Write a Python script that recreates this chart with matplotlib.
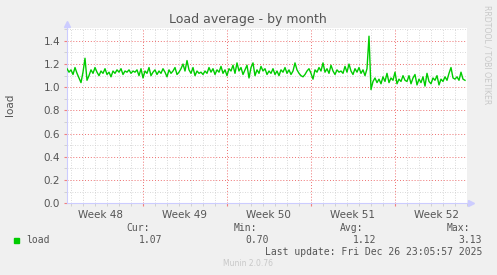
import numpy as np
import matplotlib
matplotlib.use('Agg')
import matplotlib.pyplot as plt
from matplotlib.ticker import MultipleLocator, FixedLocator, NullFormatter

# Carga media (muestras cada ~4 horas, 33.3 dias visibles)
carga = [
    1.16, 1.13, 1.15, 1.11, 1.17, 1.12, 1.08, 1.04, 1.13, 1.25, 1.06, 1.10, 1.15, 1.12, 1.17, 1.13, 1.10,
    1.14, 1.12, 1.16, 1.11, 1.13, 1.09, 1.14, 1.12, 1.15, 1.13, 1.16, 1.11, 1.14, 1.13, 1.15, 1.12, 1.14,
    1.13, 1.15, 1.10, 1.16, 1.08, 1.14, 1.12, 1.17, 1.10, 1.13, 1.15, 1.11, 1.14, 1.12, 1.16, 1.13, 1.09,
    1.15, 1.12, 1.14, 1.17, 1.11, 1.13, 1.16, 1.20, 1.14, 1.23, 1.15, 1.12, 1.17, 1.10, 1.14, 1.12, 1.13,
    1.11, 1.14, 1.12, 1.17, 1.13, 1.16, 1.11, 1.15, 1.13, 1.18, 1.12, 1.15, 1.10, 1.16, 1.14, 1.19, 1.12,
    1.21, 1.14, 1.17, 1.11, 1.15, 1.19, 1.08, 1.17, 1.21, 1.10, 1.15, 1.12, 1.18, 1.14, 1.16, 1.11, 1.14,
    1.12, 1.16, 1.11, 1.14, 1.10, 1.15, 1.13, 1.17, 1.12, 1.15, 1.11, 1.14, 1.21, 1.15, 1.12, 1.10, 1.09,
    1.11, 1.14, 1.16, 1.12, 1.07, 1.15, 1.13, 1.17, 1.14, 1.21, 1.13, 1.16, 1.12, 1.19, 1.14, 1.11, 1.15,
    1.13, 1.14, 1.12, 1.18, 1.13, 1.20, 1.14, 1.11, 1.16, 1.13, 1.17, 1.12, 1.15, 1.10, 1.16, 1.44, 0.98,
    1.05, 1.08, 1.04, 1.07, 1.03, 1.09, 1.05, 1.12, 1.04, 1.08, 1.06, 1.13, 1.03, 1.07, 1.05, 1.10, 1.06,
    1.05, 1.10, 1.03, 1.08, 1.11, 1.02, 1.07, 1.04, 1.09, 1.01, 1.12, 1.05, 1.03, 1.08, 1.06, 1.10, 1.02,
    1.07, 1.05, 1.09, 1.06, 1.12, 1.17, 1.08, 1.07, 1.09, 1.06, 1.13, 1.07, 1.06,
]
dias_total = 33.33
inicio_semanas = [6.3, 13.3, 20.3, 27.3]
etiquetas_semana = ['Week 48', 'Week 49', 'Week 50', 'Week 51', 'Week 52']
centros_semana = [-0.7, 6.3, 13.3, 20.3, 27.3]

cabeceras = ['Cur:', 'Min:', 'Avg:', 'Max:']
valores = ['1.07', '0.70', '1.12', '3.13']

fondo = '#f0f0f0'
texto = '#555555'

t = np.arange(len(carga)) * dias_total / len(carga)

fig = plt.figure(figsize=(4.97, 2.75), dpi=100, facecolor=fondo)
ax = fig.add_axes([67/497, 1 - 203.3/275, 400/497, (203.3 - 27.5)/275])
ax.set_facecolor('white')

ax.plot(t, carga, color='#00cc00', lw=1.0, zorder=3)

ax.set_xlim(0, dias_total)
ax.set_ylim(0, 1.515)

# rejilla (las lineas de dia que caen en lunes se quitan)
dias = [d for d in np.arange(0.3, dias_total, 1.0)
        if min(abs(d - s) for s in inicio_semanas) > 0.05]
ax.xaxis.set_major_locator(FixedLocator(inicio_semanas))
ax.xaxis.set_minor_locator(FixedLocator(dias))
ax.yaxis.set_major_locator(MultipleLocator(0.2))
ax.yaxis.set_minor_locator(MultipleLocator(0.1))
ax.grid(which='minor', color='#cccccc', ls=(0, (1, 2)), lw=0.6)
ax.grid(which='major', color='#ee7070', ls=(0, (1, 2)), lw=0.7)
ax.set_axisbelow(True)

ax.xaxis.set_major_formatter(NullFormatter())
ax.yaxis.set_major_formatter(plt.FuncFormatter(lambda v, p: '%.1f' % v))
ax.tick_params(axis='y', which='major', colors='#f08080', length=2, labelcolor=texto, labelsize=7.5, pad=3)
ax.tick_params(axis='x', which='major', colors='#f08080', length=2)
ax.tick_params(which='minor', colors='#cccccc', length=2)

for c, e in zip(centros_semana, etiquetas_semana):
    ax.text(c + 3.5, -0.055, e, ha='center', va='top', fontsize=7.5, color=texto,
            transform=ax.transData)

for s in ['top', 'right']:
    ax.spines[s].set_visible(False)
ax.spines['left'].set_color('#ccccff')
ax.spines['bottom'].set_color('#ccccff')
ax.spines['left'].set_linewidth(0.8)
ax.spines['bottom'].set_linewidth(0.8)
ax.plot([0], [1.545], marker='^', color='#ccccff', ms=4, clip_on=False, transform=ax.transData)
ax.plot([dias_total + 0.3], [0], marker='>', color='#ccccff', ms=4, clip_on=False)

fig.text(248/497, 1 - 19/275, 'Load average - by month', ha='center', va='center',
         fontsize=9, color=texto)
fig.text(10/497, 1 - 105/275, 'load', rotation=90, ha='center', va='center',
         fontsize=7.5, color=texto)
fig.text(487/497, 1 - 5/275, 'RRDTOOL / TOBI OETIKER', rotation=270, ha='center', va='top',
         fontsize=5.6, color='#c8c8c8')

# leyenda
mono = 'DejaVu Sans Mono'
x_cab = [150, 257, 363, 470]
x_val = [162, 269, 376, 482]
for xc, xv, c, v in zip(x_cab, x_val, cabeceras, valores):
    fig.text(xc/497, 1 - 228/275, c, ha='right', va='center', fontsize=7, color=texto, family=mono)
    fig.text(xv/497, 1 - 240/275, v, ha='right', va='center', fontsize=7, color=texto, family=mono)
fig.patches.append(plt.Rectangle((14/497, 1 - 243/275), 5/497, 5/275, color='#00cc00',
                                 transform=fig.transFigure, figure=fig))
fig.text(26/497, 1 - 240/275, 'load', ha='left', va='center', fontsize=7, color=texto, family=mono)
fig.text(482/497, 1 - 251.7/275, 'Last update: Fri Dec 26 23:05:57 2025', ha='right', va='center',
         fontsize=7, color=texto, family=mono)
fig.text(248/497, 1 - 264/275, 'Munin 2.0.76', ha='center', va='center', fontsize=5.5,
         color='#c8c8c8')

fig.savefig('out.png', dpi=100, facecolor=fondo)
